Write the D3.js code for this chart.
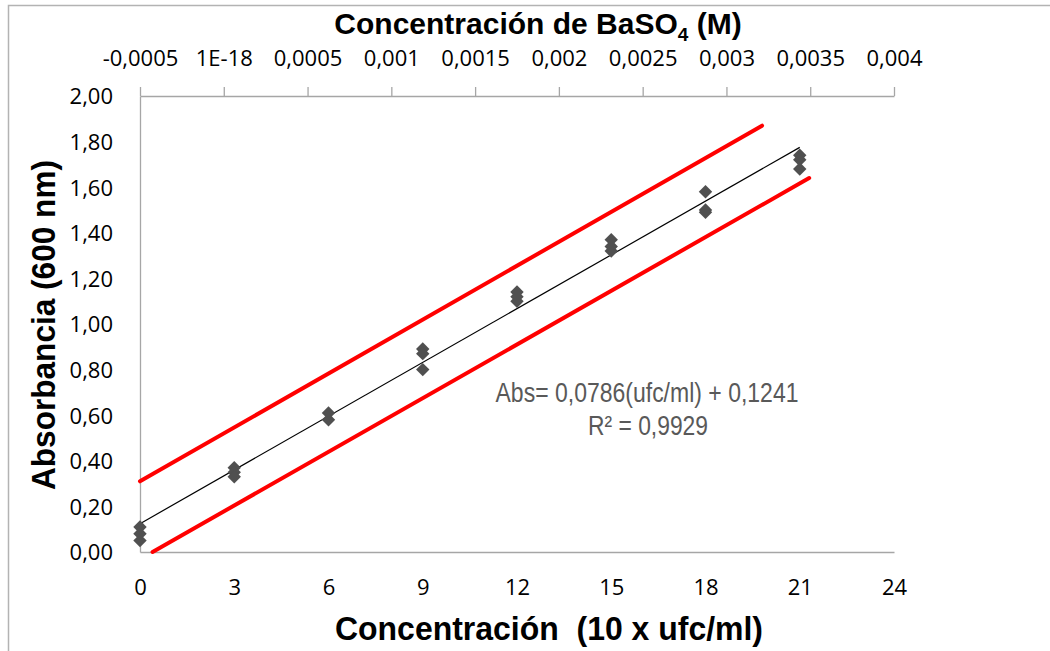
<!DOCTYPE html>
<html>
<head>
<meta charset="utf-8">
<script src="https://cdn.jsdelivr.net/npm/d3@7"></script>
<style>
	body { margin: 0; background: #fff; }
	svg { display: block; }
</style>
</head>
<body>
<svg id="chart"></svg>
<script>

// datos
var concX	=	[0, 0, 0, 3, 3, 3, 6, 6, 9, 9, 9, 12, 12, 12, 15, 15, 15, 18, 18, 18, 21, 21, 21];
var absY	=	[0.11, 0.08, 0.05, 0.37, 0.35, 0.33, 0.61, 0.58, 0.89, 0.87, 0.80, 1.14, 1.12, 1.10, 1.37, 1.34, 1.32, 1.58, 1.50, 1.49, 1.74, 1.72, 1.68];

var slope		=	0.0786;
var intercept	=	0.1241;
var trendX		=	[0, 21];

// lineas rojas (limites)
var bandX	=	[[0, 19.8], [0.4, 21.3]];
var bandY	=	[[0.31, 1.87], [0, 1.64]];

var bottomTicks	=	[0, 3, 6, 9, 12, 15, 18, 21, 24];
var leftTicks	=	[0, 0.2, 0.4, 0.6, 0.8, 1.0, 1.2, 1.4, 1.6, 1.8, 2.0];
var topTicks	=	[-0.0005, 0, 0.0005, 0.001, 0.0015, 0.002, 0.0025, 0.003, 0.0035, 0.004];
var topLabels	=	['-0,0005', '1E-18', '0,0005', '0,001', '0,0015', '0,002', '0,0025', '0,003', '0,0035', '0,004'];

var width	=	1050;
var height	=	651;

var svg = d3.select('#chart')
	.attr('width', width)
	.attr('height', height);

var x	=	d3.scaleLinear().domain([0, 24]).range([140, 894]);
var y	=	d3.scaleLinear().domain([0, 2]).range([552, 96]);
var xTop	=	d3.scaleLinear().domain([-0.0005, 0.004]).range([140, 894]);

var axisColor	=	'#a6a6a6';
var tickFont	=	'"Open Sans", Lato, sans-serif';

// marco exterior
svg.append('path')
	.attr('d', 'M8.5,' + height + 'V5.5H' + width)
	.attr('fill', 'none')
	.attr('stroke', '#b3b3b3')
	.attr('stroke-width', 1.5);

// eje superior
var gTop = svg.append('g')
	.attr('transform', 'translate(0,96)')
	.call(d3.axisTop(xTop).tickValues(topTicks).tickSize(9).tickSizeOuter(0)
		.tickFormat(function(d, i) { return topLabels[i]; }));

gTop.select('.domain').attr('stroke', axisColor).attr('stroke-width', 1.3);
gTop.selectAll('.tick line').attr('stroke', axisColor).attr('stroke-width', 1.3);
gTop.selectAll('.tick text')
	.attr('y', -30)
	.attr('dy', 0)
	.attr('fill', '#000')
	.style('font-family', tickFont)
	.style('font-size', '22px');

// eje inferior
var gBottom = svg.append('g')
	.attr('transform', 'translate(0,552)')
	.call(d3.axisBottom(x).tickValues(bottomTicks).tickSize(0).tickSizeOuter(0)
		.tickFormat(function(d) { return d; }));

gBottom.select('.domain').attr('stroke', axisColor).attr('stroke-width', 1.3);
gBottom.selectAll('.tick text')
	.attr('y', 43)
	.attr('dy', 0)
	.attr('fill', '#000')
	.style('font-family', tickFont)
	.style('font-size', '22px');

// eje izquierdo
var gLeft = svg.append('g')
	.attr('transform', 'translate(140,0)')
	.call(d3.axisLeft(y).tickValues(leftTicks).tickSize(0).tickSizeOuter(0)
		.tickFormat(function(d) { return d3.format('.2f')(d).replace('.', ','); }));

gLeft.select('.domain').attr('stroke', axisColor).attr('stroke-width', 1.3);
gLeft.selectAll('.tick text')
	.attr('x', -27)
	.attr('dy', '0.36em')
	.attr('fill', '#000')
	.style('font-family', tickFont)
	.style('font-size', '22px');

// lineas rojas
bandX.forEach(function(bx, i) {
	svg.append('line')
		.attr('x1', x(bx[0]))
		.attr('y1', y(bandY[i][0]))
		.attr('x2', x(bx[1]))
		.attr('y2', y(bandY[i][1]))
		.attr('stroke', '#ff0000')
		.attr('stroke-width', 4)
		.attr('stroke-linecap', 'round');
});

// linea de tendencia
svg.append('line')
	.attr('x1', x(trendX[0]))
	.attr('y1', y(slope * trendX[0] + intercept))
	.attr('x2', x(trendX[1]))
	.attr('y2', y(slope * trendX[1] + intercept))
	.attr('stroke', '#000')
	.attr('stroke-width', 1.2);

// puntos
var diamond = d3.symbol().type(d3.symbolDiamond2).size(115);

svg.append('g')
	.selectAll('path')
	.data(concX)
	.enter().append('path')
	.attr('d', diamond)
	.attr('transform', function(d, i) {
		return 'translate(' + x(d) + ',' + y(absY[i]) + ')';
	})
	.attr('fill', '#505050');

// ecuacion
var eq = svg.append('g')
	.style('font-family', '"Liberation Sans Narrow", "Liberation Sans", Arial, sans-serif')
	.style('font-size', '27px')
	.attr('fill', '#595959')
	.attr('text-anchor', 'middle');

eq.append('text')
	.attr('x', 647)
	.attr('y', 402)
	.attr('textLength', 303)
	.attr('lengthAdjust', 'spacingAndGlyphs')
	.text('Abs= 0,0786(ufc/ml) + 0,1241');

eq.append('text')
	.attr('x', 648)
	.attr('y', 435)
	.attr('textLength', 120)
	.attr('lengthAdjust', 'spacingAndGlyphs')
	.text('R² = 0,9929');

// titulos
var titleFont = '"Liberation Sans", Arial, sans-serif';

var topTitle = svg.append('text')
	.attr('x', 538)
	.attr('y', 34)
	.attr('text-anchor', 'middle')
	.style('font-family', titleFont)
	.style('font-size', '30px')
	.style('font-weight', 'bold');

topTitle.append('tspan').text('Concentración de BaSO');
topTitle.append('tspan').attr('dy', 7).style('font-size', '19px').text('4');
topTitle.append('tspan').attr('dy', -7).text(' (M)');

svg.append('text')
	.attr('x', 549)
	.attr('y', 640)
	.attr('text-anchor', 'middle')
	.attr('textLength', 428)
	.attr('lengthAdjust', 'spacingAndGlyphs')
	.style('font-family', titleFont)
	.style('font-size', '34px')
	.style('font-weight', 'bold')
	.style('white-space', 'pre')
	.text('Concentración  (10 x ufc/ml)');

svg.append('text')
	.attr('transform', 'translate(55,325) rotate(-90)')
	.attr('text-anchor', 'middle')
	.attr('textLength', 330)
	.attr('lengthAdjust', 'spacingAndGlyphs')
	.style('font-family', titleFont)
	.style('font-size', '34px')
	.style('font-weight', 'bold')
	.text('Absorbancia (600 nm)');

</script>
</body>
</html>
